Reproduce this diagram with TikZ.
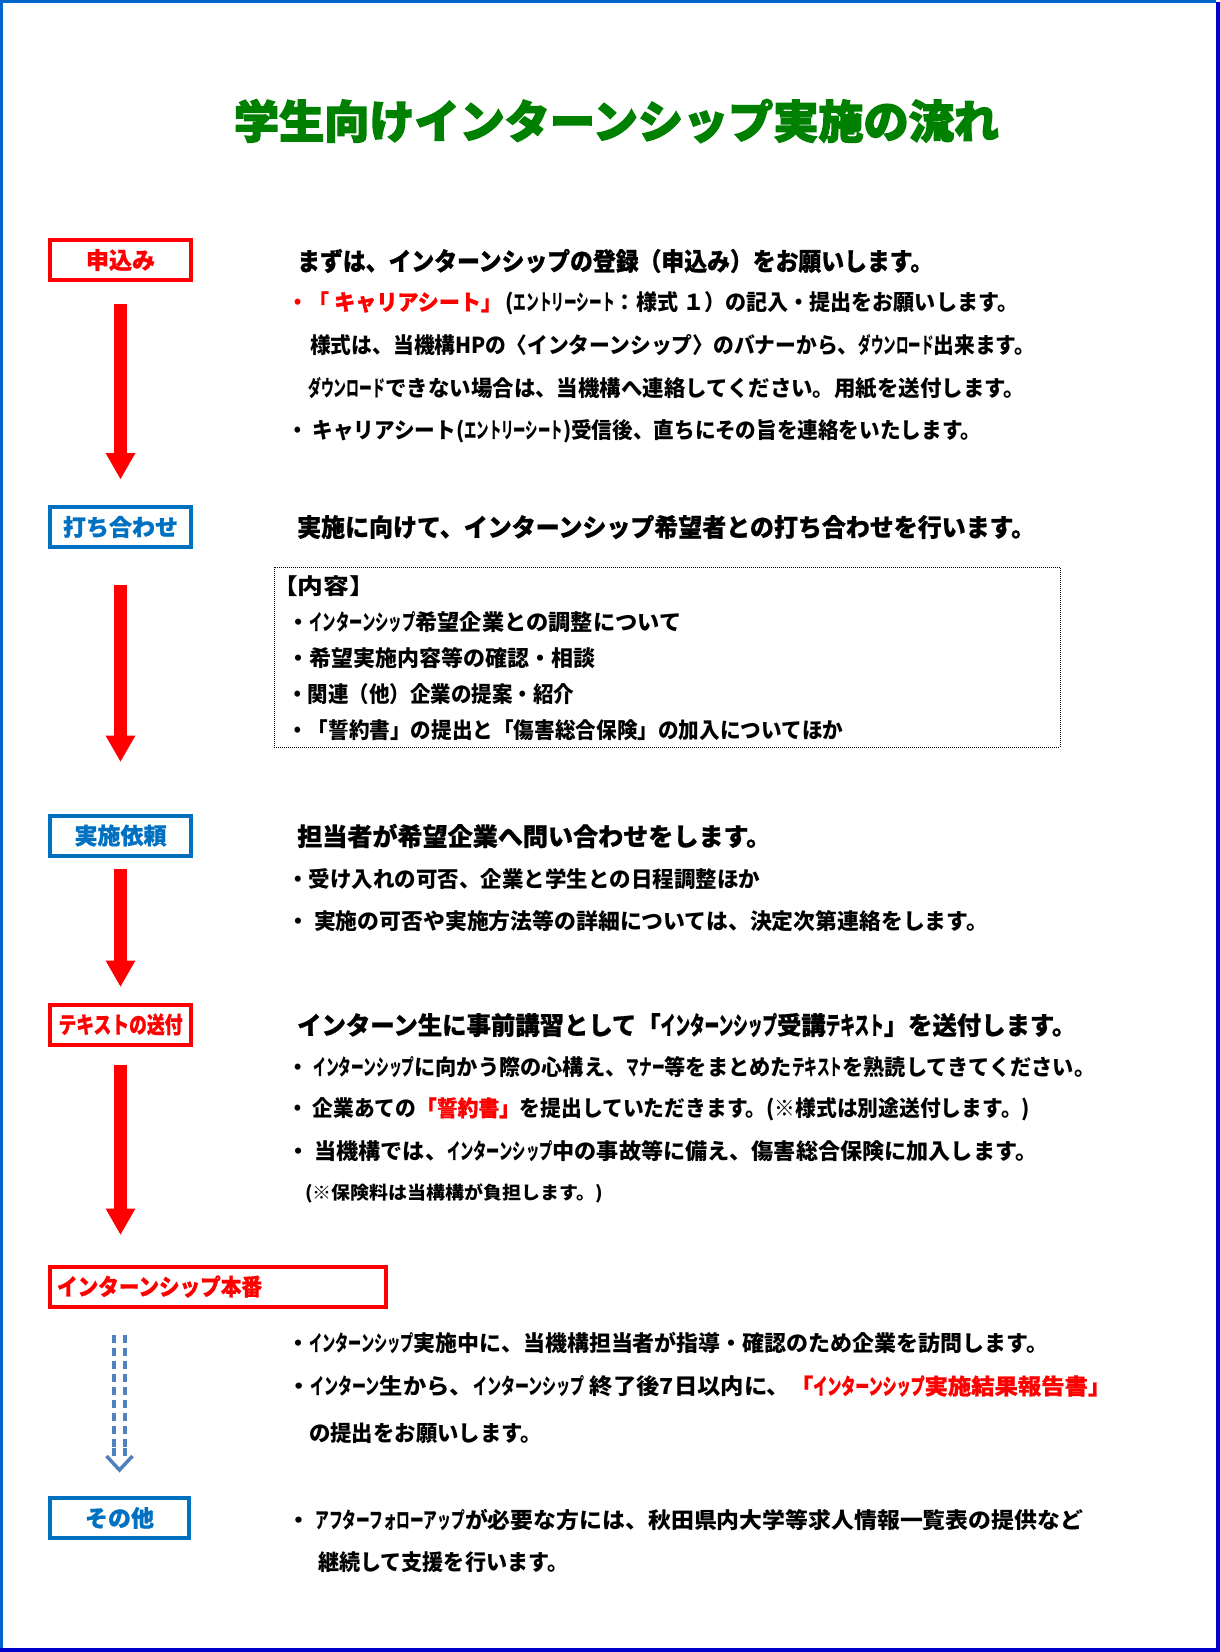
\documentclass[tikz,border=0pt]{standalone}
\usepackage{fontspec}
\setmainfont{Noto Sans CJK JP}
\newfontfamily\hfont{Noto Sans CJK JP}[BoldFeatures={FakeBold=0.8}]
\newfontfamily\titlefont{Noto Sans CJK JP}[BoldFeatures={FakeBold=3}]
\usetikzlibrary{arrows.meta,calc}
\definecolor{tgreen}{RGB}{0,128,0}
\definecolor{bblue}{RGB}{0,112,192}
\definecolor{frameA}{RGB}{0,102,204}
\definecolor{frameB}{RGB}{0,0,204}
\definecolor{steel}{RGB}{79,129,189}
\newcommand{\fitw}[2]{\resizebox{#1pt}{\height}{#2}}
\newcommand{\nar}[1]{\scalebox{0.6}[1]{#1}}
\newcommand{\emr}[1]{\textcolor{red}{\hfont\bfseries #1}}
\begin{document}
\begin{tikzpicture}[x=1pt,y=-1pt,
  stepred/.style={draw=red, line width=4pt, text=red, font=\hfont\fontsize{23}{25}\selectfont\bfseries, minimum width=141pt, minimum height=40pt, inner sep=0pt},
  stepblue/.style={draw=bblue, line width=4pt, text=bblue, font=\hfont\fontsize{23}{25}\selectfont\bfseries, minimum width=141pt, minimum height=40pt, inner sep=0pt},
  body/.style={anchor=west, inner sep=0pt, font=\fontsize{22}{24}\selectfont\bfseries},
  small/.style={anchor=west, inner sep=0pt, font=\fontsize{18}{20}\selectfont\bfseries},
  head/.style={anchor=west, inner sep=0pt, font=\hfont\fontsize{25}{27}\selectfont\bfseries},
  redarrow/.style={draw=red, line width=13pt, -{Triangle[width=30pt,length=26pt,line width=0pt]}},
  dasharrow/.style={draw=steel, line width=3.2pt, dash pattern=on 8pt off 5pt},
  chevron/.style={draw=steel, line width=3.5pt}
]
\useasboundingbox (0,0) rectangle (1220,1652);
\fill[white] (0,0) rectangle (1220,1652);
% frame
\fill[frameA] (0,0) rectangle (1216,2.5);
\fill[frameA] (0,0) rectangle (2.5,1652);
\fill[frameB] (1215.5,2) rectangle (1220,1652);
\fill[frameB] (0,1647.5) rectangle (1220,1652);

% title
\node[inner sep=0pt, text=tgreen, font=\titlefont\fontsize{45}{50}\selectfont\bfseries] (title) at (616.5,121) {\fitw{765}{学生向けインターンシップ実施の流れ}};

% step boxes
\node[stepred] (b1) at (120.5,260) {申込み};
\node[stepblue] (b2) at (120.5,527) {打ち合わせ};
\node[stepblue] (b3) at (120.5,835.5) {実施依頼};
\node[stepred] (b4) at (120.5,1024.5) {\fitw{124}{テキストの送付}};
\node[stepred, minimum width=336pt, text width=322pt, align=left] (b5) at (218,1286.5) {\fitw{205}{インターンシップ本番}};
\node[stepblue, minimum width=139pt] (b6) at (119.5,1518) {その他};

% arrows
\draw[redarrow, shorten <=22pt, shorten >=26pt] (b1.south) -- (b2.north);
\draw[redarrow, shorten <=36pt, shorten >=52pt] (b2.south) -- (b3.north);
\draw[redarrow, shorten <=11pt, shorten >=16pt] (b3.south) -- (b4.north);
\draw[redarrow, shorten <=18pt, shorten >=30pt] (b4.south) -- (b4.south |- b5.north);

\coordinate (d1) at ($(b6.north |- b5.south)+(0,26)$);
\coordinate (d2) at ($(b6.north)+(0,-26)$);
\draw[dasharrow] ($(d1)+(-5.5,0)$) -- ($(d2)+(-5.5,-16)$);
\draw[dasharrow] ($(d1)+(5.5,0)$) -- ($(d2)+(5.5,-16)$);
\draw[chevron] ($(d2)+(-5.5,-22)$) -- ($(d2)+(-5.5,-14)$);
\draw[chevron] ($(d2)+(5.5,-22)$) -- ($(d2)+(5.5,-14)$);
\draw[chevron, line join=miter] ($(d2)+(-13,-14)$) -- (d2) -- ($(d2)+(13,-14)$);

% section 1
\node[head] (h1) at (297,261) {\fitw{636}{まずは、インターンシップの登録（申込み）をお願いします。}};
\node[body] (l1a) at (287,303) {\fitw{731}{\textcolor{red}{・「 }\emr{キャリアシート」}\,(\nar{エントリーシート}：様式 １）の記入・提出をお願いします。}};
\node[body] (l1b) at (310,345) {\fitw{725}{様式は、当機構HPの〈インターンシップ〉のバナーから、\nar{ダウンロード}出来ます。}};
\node[body] (l1c) at (308,388) {\fitw{717}{\nar{ダウンロード}できない場合は、当機構へ連絡してください。用紙を送付します。}};
\node[body] (l1d) at (287,431) {\fitw{694}{・ キャリアシート(\nar{エントリーシート})受信後、直ちにその旨を連絡をいたします。}};

% section 2
\node[head] (h2) at (297,527) {\fitw{738}{実施に向けて、インターンシップ希望者との打ち合わせを行います。}};
\node[draw, dash pattern=on 1pt off 1pt, line width=1pt, minimum width=786pt, minimum height=180pt, inner sep=0pt] (naiyo) at (667,657) {};
\node[body] (l2a) at (272,586) {\fitw{103}{【内容】}};
\node[body] (l2b) at (287,622) {\fitw{394}{・\nar{インターンシップ}希望企業との調整について}};
\node[body] (l2c) at (287,658) {\fitw{308}{・希望実施内容等の確認・相談}};
\node[body] (l2d) at (287,694) {\fitw{287}{・関連（他）企業の提案・紹介}};
\node[body] (l2e) at (287,730) {\fitw{556}{・「誓約書」の提出と「傷害総合保険」の加入についてほか}};

% section 3
\node[head] (h3) at (297,836) {\fitw{474}{担当者が希望企業へ問い合わせをします。}};
\node[body] (l3a) at (287,879) {\fitw{473}{・受け入れの可否、企業と学生との日程調整ほか}};
\node[body] (l3b) at (287,921) {\fitw{701}{・ 実施の可否や実施方法等の詳細については、決定次第連絡をします。}};

% section 4
\node[head] (h4) at (297,1025) {\fitw{779}{インターン生に事前講習として「\nar{インターンシップ}受講\nar{テキスト}」を送付します。}};
\node[body] (l4a) at (287,1067) {\fitw{808}{・ \nar{インターンシップ}に向かう際の心構え、\nar{マナー}等をまとめた\nar{テキスト}を熟読してきてください。}};
\node[body] (l4b) at (287,1109) {\fitw{743}{・ 企業あての\emr{「誓約書」}を提出していただきます。(※様式は別途送付します。)}};
\node[body] (l4c) at (287,1151) {\fitw{750}{・ 当機構では、\nar{インターンシップ}中の事故等に備え、傷害総合保険に加入します。}};
\node[small] (l4d) at (305,1193) {\fitw{298}{(※保険料は当構構が負担します。)}};

% section 5
\node[body] (l5a) at (287,1343) {\fitw{761}{・\nar{インターンシップ}実施中に、当機構担当者が指導・確認のため企業を訪問します。}};
\node[body] (l5b) at (287,1386) {\fitw{824}{・\nar{インターン}生から、\nar{インターンシップ} 終了後7日以内に、\emr{「\nar{インターンシップ}実施結果報告書」}}};
\node[body] (l5c) at (309,1433) {\fitw{233}{の提出をお願いします。}};

% section 6
\node[body] (l6a) at (287,1520) {\fitw{796}{・ \nar{アフターフォローアップ}が必要な方には、秋田県内大学等求人情報一覧表の提供など}};
\node[body] (l6b) at (318,1562) {\fitw{250}{継続して支援を行います。}};
\end{tikzpicture}
\end{document}
